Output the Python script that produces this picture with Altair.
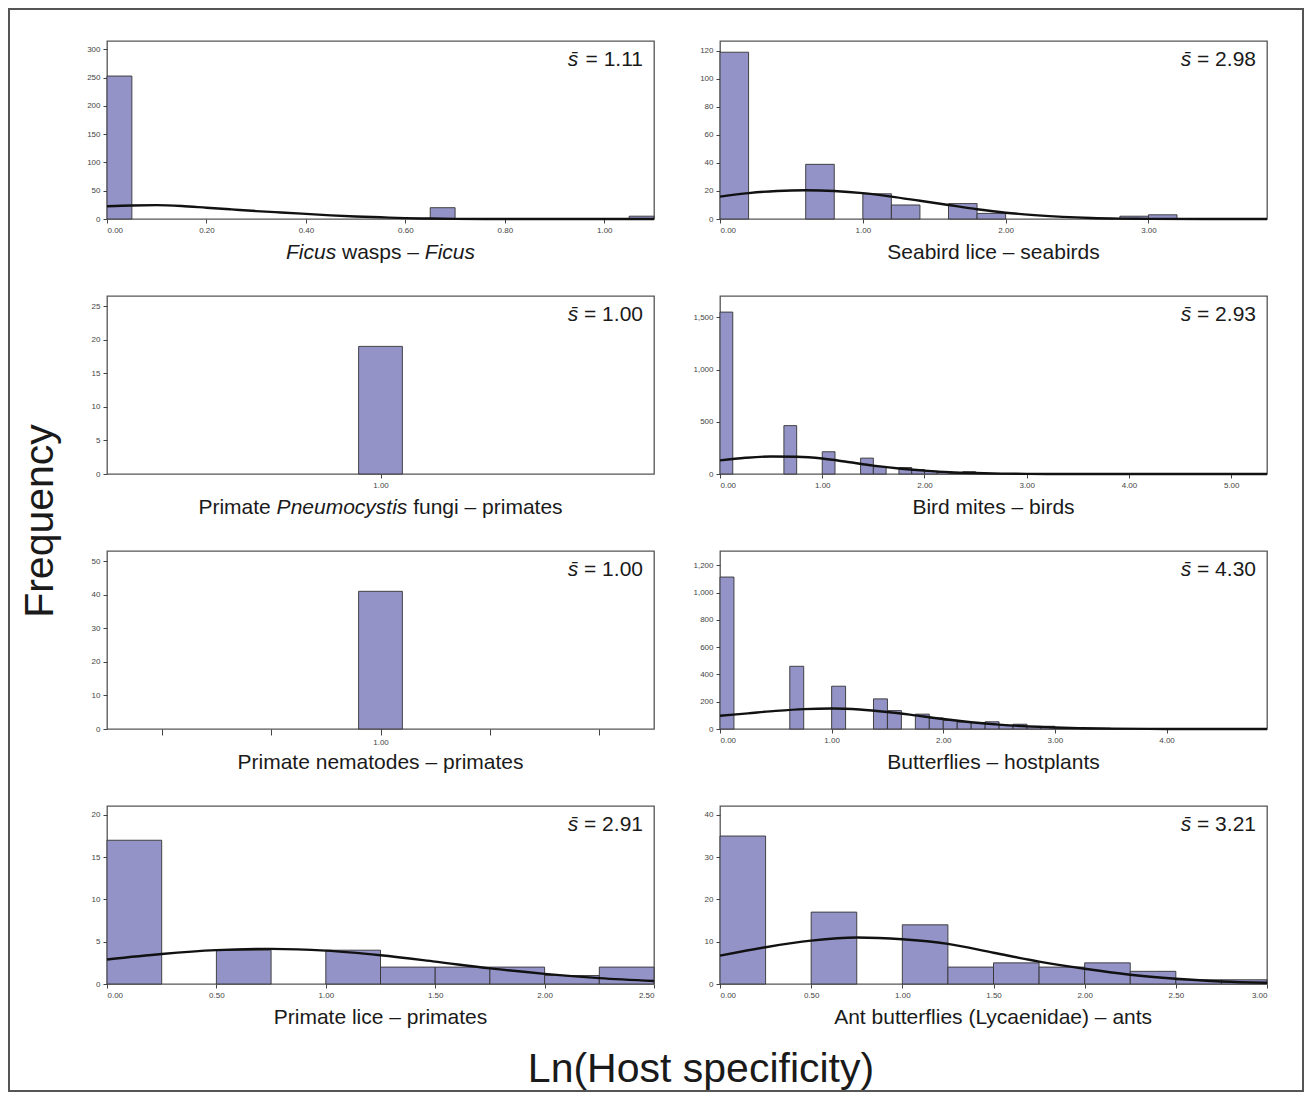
import altair as alt
import pandas as pd

FONT = "Liberation Sans"
BAR_FILL = "#9393C8"
BAR_EDGE = "#333333"
LINE_COL = "#111111"
TXT = "#1a1a1a"

# ---------------- data ----------------
# 1 Ficus wasps - Ficus
ficus_starts = [0.00, 0.65, 1.05]
ficus_counts = [253, 20, 5]
ficus_binw = 0.05
ficus_cx = [0.00, 0.05, 0.10, 0.15, 0.20, 0.25, 0.30, 0.35, 0.40, 0.45, 0.50, 0.55, 0.60, 0.65, 0.70, 0.80, 1.10]
ficus_cy = [22.5, 24.0, 24.5, 23.0, 20.0, 17.0, 14.0, 11.5, 9.0, 6.5, 4.5, 3.0, 1.5, 0.8, 0.3, 0.0, 0.0]

# 2 Seabird lice - seabirds
seabird_starts = [0.0, 0.6, 1.0, 1.2, 1.6, 1.8, 2.8, 3.0]
seabird_counts = [119, 39, 18, 10, 11, 4, 2, 3]
seabird_binw = 0.2
seabird_cx = [0.0, 0.2, 0.4, 0.6, 0.8, 1.0, 1.2, 1.4, 1.6, 1.8, 2.0, 2.2, 2.4, 2.6, 2.8, 3.0, 3.83]
seabird_cy = [16.0, 18.5, 20.0, 20.5, 20.0, 18.5, 16.0, 13.0, 10.0, 7.0, 4.5, 2.8, 1.5, 0.7, 0.3, 0.1, 0.0]

# 3 Primate Pneumocystis fungi - primates
pneumo_starts = [0.96]
pneumo_counts = [19]
pneumo_binw = 0.08

# 4 Bird mites - birds
mites_starts = [0.0, 0.625, 1.0, 1.375, 1.5, 1.75, 1.875, 2.0, 2.125, 2.25, 2.375, 2.5, 2.625, 2.75, 2.875]
mites_counts = [1550, 463, 213, 152, 70, 62, 43, 28, 15, 8, 22, 4, 3, 2, 2]
mites_binw = 0.125
mites_cx = [0.0, 0.25, 0.5, 0.75, 1.0, 1.25, 1.5, 1.75, 2.0, 2.25, 2.5, 2.75, 3.0, 3.5, 5.35]
mites_cy = [130, 155, 168, 165, 148, 115, 80, 52, 32, 17, 9, 4, 1.5, 0, 0]

# 5 Primate nematodes - primates
nema_starts = [0.96]
nema_counts = [41]
nema_binw = 0.08

# 6 Butterflies - hostplants
bfly_starts = [0.0, 0.625, 1.0, 1.375, 1.5, 1.75, 1.875, 2.0, 2.125, 2.25, 2.375, 2.5, 2.625,
               2.75, 2.875, 3.0, 3.125, 3.25, 3.375, 3.5]
bfly_counts = [1115, 460, 314, 221, 135, 109, 81, 63, 51, 48, 53, 28, 35, 21, 20, 9, 8, 6, 6, 3]
bfly_binw = 0.125
bfly_cx = [0.0, 0.25, 0.5, 0.75, 1.0, 1.25, 1.5, 1.75, 2.0, 2.25, 2.5, 2.75, 3.0, 3.25, 3.5, 4.0, 4.9]
bfly_cy = [97, 115, 133, 146, 150, 143, 125, 100, 73, 50, 32, 19, 11, 6, 3, 0.5, 0]

# 7 Primate lice - primates
lice_starts = [0.0, 0.5, 1.0, 1.25, 1.5, 1.75, 2.0, 2.25]
lice_counts = [17, 4, 4, 2, 2, 2, 1, 2]
lice_binw = 0.25
lice_cx = [0.0, 0.25, 0.5, 0.75, 1.0, 1.25, 1.5, 1.75, 2.0, 2.25, 2.5]
lice_cy = [2.9, 3.55, 4.0, 4.15, 3.95, 3.4, 2.65, 1.85, 1.2, 0.7, 0.35]

# 8 Ant butterflies (Lycaenidae) - ants
ant_starts = [0.0, 0.5, 1.0, 1.25, 1.5, 1.75, 2.0, 2.25, 2.5, 2.75]
ant_counts = [35, 17, 14, 4, 5, 4, 5, 3, 1, 1]
ant_binw = 0.25
ant_cx = [0.0, 0.25, 0.5, 0.75, 1.0, 1.25, 1.5, 1.75, 2.0, 2.25, 2.5, 2.75, 3.0]
ant_cy = [6.7, 8.7, 10.25, 11.0, 10.6, 9.5, 7.4, 5.3, 3.6, 2.2, 1.25, 0.6, 0.3]

# mean host specificity labels
s_values = ["1.11", "2.98", "1.00", "2.93", "1.00", "4.30", "2.91", "3.21"]

# panel titles (segments: text, italic)
titles = [
    [("Ficus", True), (" wasps \u2013 ", False), ("Ficus", True)],
    [("Seabird lice \u2013 seabirds", False)],
    [("Primate ", False), ("Pneumocystis", True), (" fungi \u2013 primates", False)],
    [("Bird mites \u2013 birds", False)],
    [("Primate nematodes \u2013 primates", False)],
    [("Butterflies \u2013 hostplants", False)],
    [("Primate lice \u2013 primates", False)],
    [("Ant butterflies (Lycaenidae) \u2013 ants", False)],
]

# axis settings
x_domains = [[0, 1.1], [0, 3.83], [0.5, 1.5], [0, 5.35], [0.5, 1.5], [0, 4.9], [0, 2.5], [0, 3.0]]
x_ticks = [
    [0, 0.2, 0.4, 0.6, 0.8, 1.0],
    [0, 1, 2, 3],
    [1.0],
    [0, 1, 2, 3, 4, 5],
    [0.6, 0.8, 1.0, 1.2, 1.4],
    [0, 1, 2, 3, 4],
    [0, 0.5, 1.0, 1.5, 2.0, 2.5],
    [0, 0.5, 1.0, 1.5, 2.0, 2.5, 3.0],
]
y_max = [315, 127, 26.5, 1704, 53, 1306, 21.05, 42.1]
y_ticks = [
    [0, 50, 100, 150, 200, 250, 300],
    [0, 20, 40, 60, 80, 100, 120],
    [0, 5, 10, 15, 20, 25],
    [0, 500, 1000, 1500],
    [0, 10, 20, 30, 40, 50],
    [0, 200, 400, 600, 800, 1000, 1200],
    [0, 5, 10, 15, 20],
    [0, 10, 20, 30, 40],
]

bars_data = [
    (ficus_starts, ficus_counts, ficus_binw),
    (seabird_starts, seabird_counts, seabird_binw),
    (pneumo_starts, pneumo_counts, pneumo_binw),
    (mites_starts, mites_counts, mites_binw),
    (nema_starts, nema_counts, nema_binw),
    (bfly_starts, bfly_counts, bfly_binw),
    (lice_starts, lice_counts, lice_binw),
    (ant_starts, ant_counts, ant_binw),
]
curves_data = [
    (ficus_cx, ficus_cy),
    (seabird_cx, seabird_cy),
    None,
    (mites_cx, mites_cy),
    None,
    (bfly_cx, bfly_cy),
    (lice_cx, lice_cy),
    (ant_cx, ant_cy),
]

# ---------------- helpers ----------------
CW = {' ': 278, 'a': 556, 'b': 556, 'c': 500, 'd': 556, 'e': 556, 'f': 278, 'g': 556, 'h': 556,
      'i': 222, 'j': 222, 'k': 500, 'l': 222, 'm': 833, 'n': 556, 'o': 556, 'p': 556, 'q': 556,
      'r': 333, 's': 500, 't': 278, 'u': 556, 'v': 500, 'w': 722, 'x': 500, 'y': 500, 'z': 500,
      'A': 667, 'B': 667, 'F': 611, 'L': 556, 'P': 667, 'S': 667, '(': 333, ')': 333,
      '\u2013': 556, '=': 584, '.': 278}


def tw(s, size):
    return sum(CW.get(ch, 556) for ch in s) * size / 1000.0


one = pd.DataFrame({"k": [0]})
TITLE_SIZE = 21
H = 178
W = 547


def text_layer(text, x, y, size, align="left", italic=False, angle=None, color=TXT):
    kw = dict(text=text, align=align, baseline="middle", fontSize=size, font=FONT,
              fontStyle="italic" if italic else "normal", color=color)
    if angle is not None:
        kw["angle"] = angle
    return alt.Chart(one).mark_text(**kw).encode(x=alt.value(x), y=alt.value(y))


def panel(i, W):
    starts, counts, binw = bars_data[i]
    bdf = pd.DataFrame({"start": starts, "count": counts})
    bdf["end"] = bdf["start"] + binw
    xs = alt.Scale(domain=x_domains[i], nice=False, zero=False)
    ys = alt.Scale(domain=[0, y_max[i]], nice=False)
    if i == 4:
        lab = "datum.value == 1 ? '1.00' : ''"
        xa = alt.Axis(values=x_ticks[i], title=None, labelExpr=lab, tickSize=6)
    else:
        xa = alt.Axis(values=x_ticks[i], title=None, format=".2f")
    ya = alt.Axis(values=y_ticks[i], title=None, format=",d" if y_max[i] > 1000 else "d")

    layers = [
        alt.Chart(bdf).mark_rect(fill=BAR_FILL, stroke=BAR_EDGE, strokeWidth=0.9).encode(
            x=alt.X("start:Q", scale=xs, axis=xa),
            x2="end:Q",
            y=alt.Y("count:Q", scale=ys, axis=ya),
            y2=alt.datum(0),
        )
    ]
    if curves_data[i] is not None:
        cx, cy = curves_data[i]
        cdf = pd.DataFrame({"x": cx, "y": cy})
        layers.append(
            alt.Chart(cdf).mark_line(color=LINE_COL, strokeWidth=2.4, interpolate="monotone").encode(
                x=alt.X("x:Q", scale=xs, axis=xa),
                y=alt.Y("y:Q", scale=ys, axis=ya),
            )
        )
    # s-bar annotation
    val = "= " + s_values[i]
    right = W - 11
    total = tw("s " + val, TITLE_SIZE)
    layers.append(text_layer("s\u0304", right - total, 19, TITLE_SIZE, italic=True))
    layers.append(text_layer(val, right, 19, TITLE_SIZE, align="right"))
    # title below the axis
    segs = titles[i]
    ttot = sum(tw(t, TITLE_SIZE) for t, _ in segs)
    x = W / 2 - ttot / 2
    for t, it in segs:
        lead = len(t) - len(t.lstrip(" "))
        layers.append(text_layer(t.strip(), x + tw(" " * lead, TITLE_SIZE), H + 34, TITLE_SIZE, italic=it))
        x += tw(t, TITLE_SIZE)
    return alt.layer(*layers).properties(width=W, height=H)


panels = [panel(i, W) for i in range(8)]
grid = alt.concat(*panels, columns=2, bounds="flush",
                  spacing=alt.RowColnumber(row=77, column=66))

spacer = alt.Chart(one).mark_rule(opacity=0).encode(
    x=alt.value(5), y=alt.value(5), y2=alt.value(6)
).properties(width=10, height=32, view=alt.ViewBackground(stroke=None))

right_col = alt.vconcat(spacer, grid, spacing=0, bounds="flush")

frame = alt.Chart(one).mark_rect(filled=False, stroke="#555555", strokeWidth=2).encode(
    x=alt.value(0), x2=alt.value(1294), y=alt.value(0), y2=alt.value(1082)
)
freq = text_layer("Frequency", 32, 512, 41, align="center", angle=270)
xtitle = text_layer("Ln(Host specificity)", 692, 1061, 41, align="center")
left_col = alt.layer(frame, freq, xtitle).properties(
    width=98, height=979, view=alt.ViewBackground(stroke=None)
)

chart = alt.hconcat(left_col, right_col, spacing=0, bounds="flush").properties(
    padding=0, background="white"
).configure_view(
    stroke="#555555", strokeWidth=1.3
).configure_axis(
    labelFont=FONT, labelFontSize=8, labelColor="#444444", tickColor="#444444",
    tickSize=4, domain=False, grid=False, labelPadding=3
)

chart.save("out.html", embed_options={"renderer": "svg", "actions": False})
